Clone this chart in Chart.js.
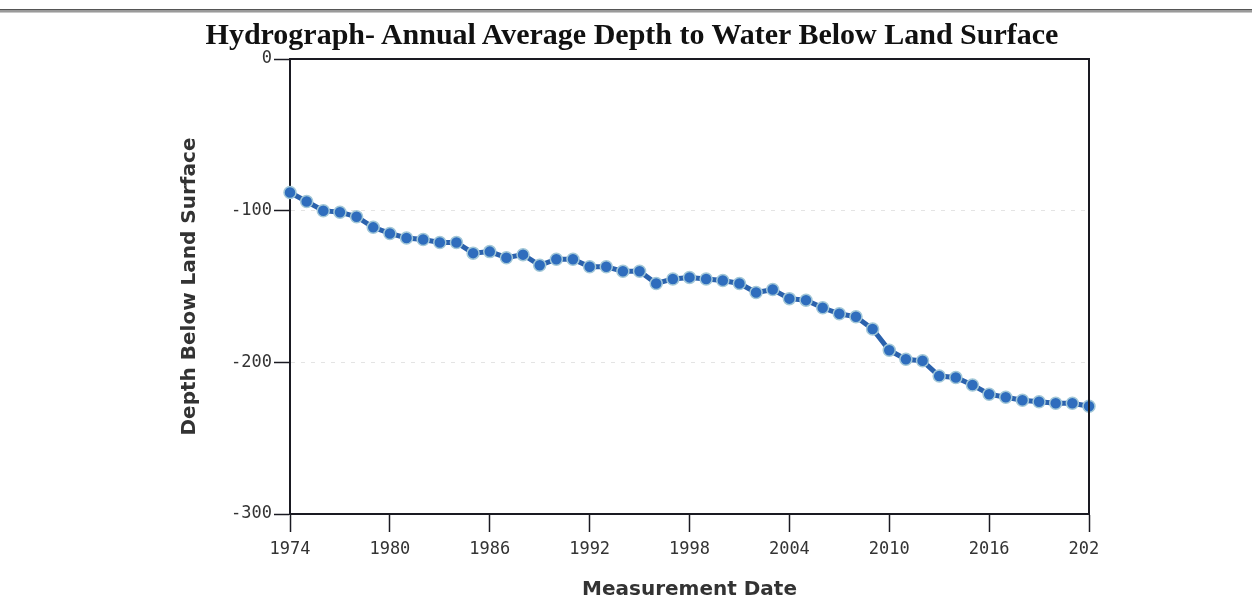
<!DOCTYPE html>
<html lang="en">

<head>
    <meta charset="UTF-8">
    <title>Hydrograph</title>
    <script src="https://cdn.jsdelivr.net/npm/chart.js"></script>
    <style>
        body {
            margin: 0;
            background: #fff;
            width: 1252px;
            height: 611px;
            overflow: hidden;
            position: relative;
        }

        .rule {
            position: absolute;
            left: 0;
            top: 9px;
            width: 1252px;
            height: 2px;
            background: #9a9a9a;
            border-top: 1px solid #555;
            border-bottom: 1px solid #c8c8c8;
        }

        .title {
            position: absolute;
            left: 0;
            top: 17px;
            width: 1264px;
            text-align: center;
            font-family: "Liberation Serif", serif;
            font-weight: bold;
            font-size: 30px;
            color: #111;
            z-index: 2;
        }

        .chart-box {
            position: absolute;
            left: 0;
            top: 0;
            width: 1100px;
            height: 611px;
            overflow: hidden;
        }
    </style>
</head>

<body>
    <div class="rule"></div>
    <div class="title">Hydrograph- Annual Average Depth to Water Below Land Surface</div>

    <div class="chart-box">
        <canvas id="hydro" width="1252" height="611"></canvas>
    </div>

    <script>
        // one reading per year, 1974 - 2022
        const years = [1974, 1975, 1976, 1977, 1978, 1979, 1980, 1981, 1982, 1983,
            1984, 1985, 1986, 1987, 1988, 1989, 1990, 1991, 1992, 1993,
            1994, 1995, 1996, 1997, 1998, 1999, 2000, 2001, 2002, 2003,
            2004, 2005, 2006, 2007, 2008, 2009, 2010, 2011, 2012, 2013,
            2014, 2015, 2016, 2017, 2018, 2019, 2020, 2021, 2022];

        // depth below land surface (ft)
        const depth = [-88, -94, -100, -101, -104, -111, -115, -118, -119, -121,
            -121, -128, -127, -131, -129, -136, -132, -132, -137, -137,
            -140, -140, -148, -145, -144, -145, -146, -148, -154, -152,
            -158, -159, -164, -168, -170, -178, -192, -198, -199, -209,
            -210, -215, -221, -223, -225, -226, -227, -227, -229];

        const xTicks = [1974, 1980, 1986, 1992, 1998, 2004, 2010, 2016, 2022];
        const yTicks = [0, -100, -200, -300];

        const points = years.map((y, i) => ({ x: y, y: depth[i] }));

        // top and right edges of the frame
        const framePlugin = {
            id: 'frame',
            afterDraw(chart) {
                const { ctx, chartArea: a } = chart;
                ctx.save();
                ctx.strokeStyle = '#1a1a22';
                ctx.lineWidth = 2;
                ctx.beginPath();
                ctx.moveTo(a.left, a.top);
                ctx.lineTo(a.right, a.top);
                ctx.lineTo(a.right, a.bottom);
                ctx.stroke();
                ctx.restore();
            }
        };

        const ctx = document.getElementById('hydro').getContext('2d');
        new Chart(ctx, {
            type: 'line',
            data: {
                datasets: [{
                    label: 'Depth',
                    data: points,
                    clip: false,
                    borderColor: '#2b62ad',
                    borderWidth: 5,
                    pointRadius: 6,
                    pointBackgroundColor: '#2f6dbd',
                    pointBorderColor: '#a3c8d8',
                    pointBorderWidth: 1.5,
                    tension: 0
                }]
            },
            options: {
                responsive: false,
                animation: false,
                layout: {
                    padding: { left: 0, right: 163, top: 59, bottom: 0 }
                },
                plugins: {
                    legend: { display: false },
                    tooltip: { enabled: false }
                },
                scales: {
                    x: {
                        type: 'linear',
                        min: xTicks[0],
                        max: xTicks[xTicks.length - 1],
                        afterFit: (s) => { s.height = 97; },
                        afterBuildTicks: (s) => { s.ticks = xTicks.map(v => ({ value: v })); },
                        ticks: {
                            padding: 7,
                            color: '#333',
                            maxRotation: 0,
                            autoSkip: false,
                            font: { family: '"DejaVu Sans Mono", monospace', size: 17 },
                            callback: (v) => String(v)
                        },
                        grid: {
                            drawOnChartArea: false,
                            tickLength: 18,
                            tickColor: '#1a1a22',
                            tickWidth: 1.5
                        },
                        border: { color: '#1a1a22', width: 2 },
                        title: {
                            display: true,
                            text: 'Measurement Date',
                            color: '#333',
                            font: { family: '"DejaVu Sans", sans-serif', size: 20, weight: 'bold' },
                            padding: { top: 0, bottom: 9 }
                        }
                    },
                    y: {
                        min: -300,
                        max: 0,
                        afterFit: (s) => { s.width = 290; },
                        afterBuildTicks: (s) => { s.ticks = yTicks.map(v => ({ value: v })); },
                        ticks: {
                            padding: 2,
                            color: '#333',
                            font: { family: '"DejaVu Sans Mono", monospace', size: 17 },
                            callback: (v) => String(v)
                        },
                        grid: {
                            color: (c) => (c.tick && (c.tick.value === 0 || c.tick.value === -300)) ? 'rgba(0,0,0,0)' : '#e4e4e4',
                            lineWidth: 1,
                            tickLength: 16,
                            tickColor: '#1a1a22',
                            tickWidth: 1.5
                        },
                        border: { color: '#1a1a22', width: 2, dash: [4, 6] },
                        title: {
                            display: true,
                            text: 'Depth Below Land Surface',
                            color: '#333',
                            font: { family: '"DejaVu Sans", sans-serif', size: 20, weight: 'bold' },
                            padding: { top: 178, bottom: 0 }
                        }
                    }
                }
            },
            plugins: [framePlugin]
        });
    </script>
</body>

</html>
